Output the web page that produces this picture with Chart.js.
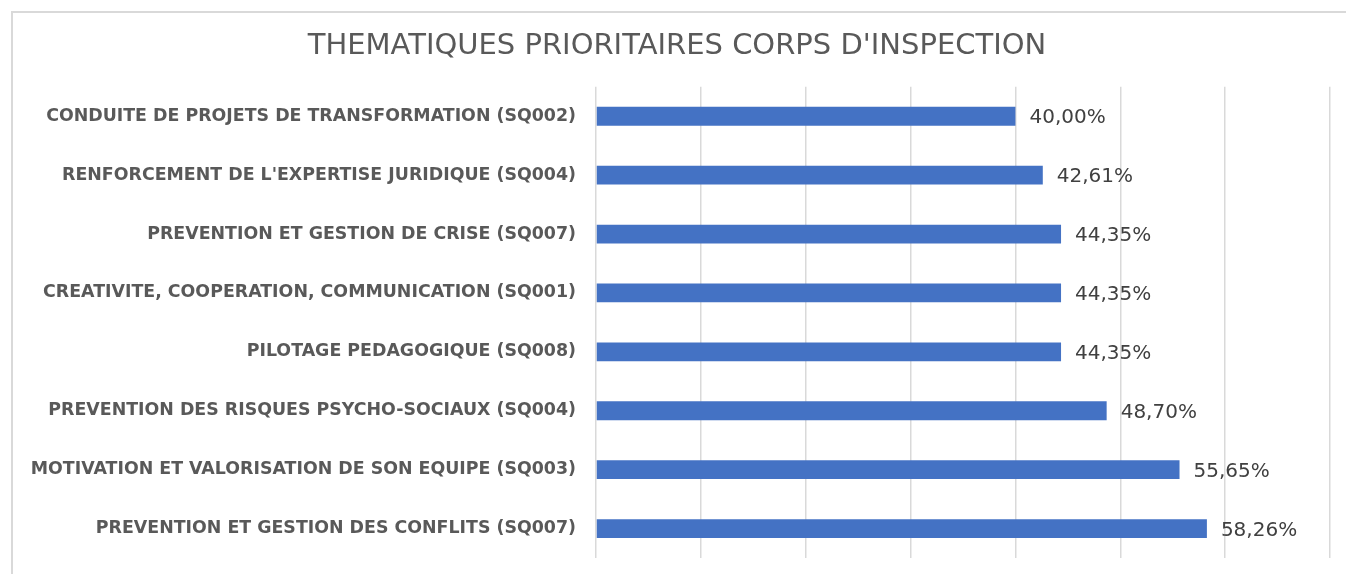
<!DOCTYPE html>
<html>
<head>
<meta charset="utf-8">
<script src="https://cdn.jsdelivr.net/npm/chart.js@4"></script>
<style>
  html, body { margin: 0; padding: 0; background: #fff; }
  #wrap { position: relative; width: 1346px; height: 574px; }
  #frame { position: absolute; left: 11px; top: 11px; right: -4px; bottom: -4px;
           border-left: 2px solid #d9d9d9; border-top: 2px solid #d9d9d9; }
  canvas { position: absolute; left: 0; top: 0; }
</style>
</head>
<body>
<div id="wrap">
  <div id="frame"></div>
  <canvas id="chart" width="1346" height="574"></canvas>
</div>
<script>
const labels = [
  'CONDUITE DE PROJETS DE TRANSFORMATION (SQ002)',
  "RENFORCEMENT DE L'EXPERTISE JURIDIQUE (SQ004)",
  'PREVENTION ET GESTION DE CRISE (SQ007)',
  'CREATIVITE, COOPERATION, COMMUNICATION (SQ001)',
  'PILOTAGE PEDAGOGIQUE (SQ008)',
  'PREVENTION DES RISQUES PSYCHO-SOCIAUX (SQ004)',
  'MOTIVATION ET VALORISATION DE SON EQUIPE (SQ003)',
  'PREVENTION ET GESTION DES CONFLITS (SQ007)'
];
const values = [40.00, 42.61, 44.35, 44.35, 44.35, 48.70, 55.65, 58.26];

const title = "THEMATIQUES PRIORITAIRES CORPS D'INSPECTION";

// etiquettes en bout de barre, format francais
const valueLabels = {
  id: 'valueLabels',
  afterDatasetsDraw(chart) {
    const ctx = chart.ctx;
    const meta = chart.getDatasetMeta(0);
    ctx.save();
    ctx.font = '20px "DejaVu Sans"';
    ctx.fillStyle = '#404040';
    ctx.textBaseline = 'middle';
    ctx.textAlign = 'left';
    meta.data.forEach((bar, i) => {
      const txt = values[i].toFixed(2).replace('.', ',') + '%';
      ctx.fillText(txt, bar.x + 14, bar.y + 2);
    });
    ctx.restore();
  }
};

const config = {
  type: 'bar',
  data: {
    labels: labels,
    datasets: [{
      data: values,
      backgroundColor: '#4472C4',
      borderWidth: 0,
      barPercentage: 0.32,
      categoryPercentage: 1
    }]
  },
  options: {
    indexAxis: 'y',
    responsive: false,
    animation: false,
    layout: {
      padding: { left: 24, right: 16, top: 0, bottom: 16 }
    },
    scales: {
      x: {
        min: 0,
        max: 70,
        ticks: { display: false, stepSize: 10 },
        border: { display: false },
        grid: { color: '#d9d9d9', lineWidth: 1.5, drawTicks: false },
        afterFit(scale) { scale.height = 0; }
      },
      y: {
        border: { display: false },
        grid: { display: false },
        ticks: {
          color: '#595959',
          padding: 12,
          font: { family: '"DejaVu Sans"', size: 17.4, weight: 'bold' }
        },
        afterFit(scale) {
          scale.width = 572;
          scale.paddingTop = 0;
          scale.paddingBottom = 0;
        }
      }
    },
    plugins: {
      legend: { display: false },
      tooltip: { enabled: false },
      title: {
        display: true,
        text: title,
        color: '#595959',
        padding: { top: 29, bottom: 23 },
        font: { family: '"DejaVu Sans"', size: 29, weight: 'normal' }
      }
    }
  },
  plugins: [valueLabels]
};

const myChart = new Chart(document.getElementById('chart'), config);
</script>
</body>
</html>
